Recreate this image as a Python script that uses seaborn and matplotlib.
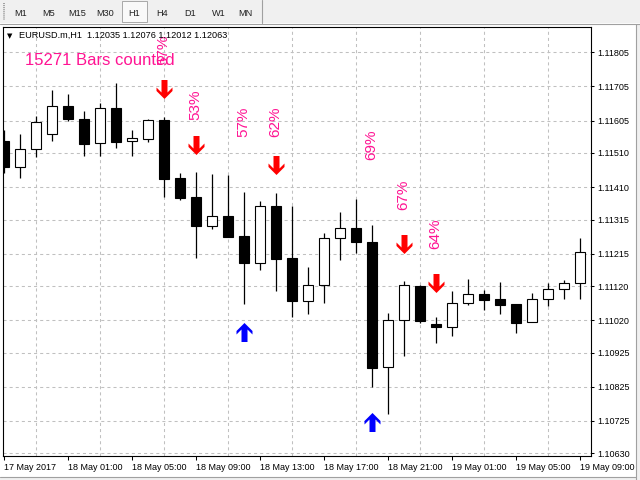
import numpy as np
import pandas as pd
import matplotlib
matplotlib.use("Agg")
import matplotlib.pyplot as plt
from matplotlib.path import Path
from matplotlib.patches import Rectangle
from matplotlib.lines import Line2D
import seaborn as sns

# EURUSD.m H1 candles, 17 May 2017 21:00 .. 19 May 2017 09:00
opens = [1.11545, 1.11468, 1.11521, 1.11565, 1.11647, 1.11609, 1.11538, 1.11642, 1.11544, 1.11552,
         1.11607, 1.11437, 1.11382, 1.11297, 1.11324, 1.11267, 1.11189, 1.11355, 1.11202, 1.11077,
         1.11122, 1.11261, 1.11290, 1.11249, 1.10884, 1.11020, 1.11120, 1.11009, 1.11001, 1.11070,
         1.11097, 1.11082, 1.11068, 1.11014, 1.11081, 1.11111, 1.11128]
highs = [1.11577, 1.11566, 1.11618, 1.11695, 1.11684, 1.11633, 1.11657, 1.11716, 1.11578, 1.11610,
         1.11615, 1.11452, 1.11455, 1.11448, 1.11445, 1.11396, 1.11369, 1.11393, 1.11355, 1.11176,
         1.11276, 1.11337, 1.11375, 1.11298, 1.11041, 1.11135, 1.11124, 1.11029, 1.11106, 1.11141,
         1.11109, 1.11132, 1.11068, 1.11100, 1.11129, 1.11138, 1.11262]
lows = [1.11452, 1.11436, 1.11499, 1.11546, 1.11605, 1.11502, 1.11502, 1.11525, 1.11502, 1.11543,
        1.11381, 1.11372, 1.11203, 1.11288, 1.11265, 1.11068, 1.11168, 1.11106, 1.11029, 1.11039,
        1.11071, 1.11197, 1.11217, 1.10824, 1.10745, 1.10916, 1.11013, 1.10954, 1.10975, 1.11065,
        1.11050, 1.11039, 1.10983, 1.11014, 1.11062, 1.11083, 1.11083]
closes = [1.11470, 1.11521, 1.11600, 1.11647, 1.11610, 1.11537, 1.11641, 1.11543, 1.11553, 1.11607,
          1.11435, 1.11379, 1.11297, 1.11325, 1.11265, 1.11189, 1.11355, 1.11200, 1.11077, 1.11123,
          1.11261, 1.11290, 1.11250, 1.10881, 1.11020, 1.11122, 1.11018, 1.11001, 1.11070, 1.11096,
          1.11080, 1.11065, 1.11013, 1.11081, 1.11111, 1.11129, 1.11219]

time_labels = ["17 May 2017", "18 May 01:00", "18 May 05:00", "18 May 09:00", "18 May 13:00",
               "18 May 17:00", "18 May 21:00", "19 May 01:00", "19 May 05:00", "19 May 09:00"]
price_labels = ["1.11805", "1.11705", "1.11605", "1.11510", "1.11410", "1.11315", "1.11215",
                "1.11120", "1.11020", "1.10925", "1.10825", "1.10725", "1.10630"]

# indicator signals
sell_bars = [10, 12, 17, 25, 27]
sell_arrow_prices = [1.11696, 1.11532, 1.11476, 1.11242, 1.11130]
buy_bars = [15, 23]
buy_arrow_prices = [1.10984, 1.10723]

pct_bars = [10, 12, 15, 17, 23, 25, 27]
pct_values = [57, 53, 57, 62, 69, 67, 64]
pct_prices = [1.11812, 1.11652, 1.11601, 1.11602, 1.11533, 1.11388, 1.11274]

bars_counted = 15271
symbol_header = "EURUSD.m,H1  1.12035 1.12076 1.12012 1.12063"
timeframes = ["M1", "M5", "M15", "M30", "H1", "H4", "D1", "W1", "MN"]
active_timeframe = "H1"

PINK = "#FF1493"

sns.set_theme(style="white")
plt.rcParams["font.family"] = ["Liberation Sans", "DejaVu Sans"]
plt.rcParams["lines.scale_dashes"] = False

W, H = 640, 480


def fx(px):
    return px / W


def fy(py):
    return 1 - py / H


fig = plt.figure(figsize=(6.4, 4.8), dpi=100, facecolor="white")
ax = fig.add_axes([fx(3), fy(456), (591 - 3) / W, (456 - 27) / H])
ax.set_facecolor("white")

df = pd.DataFrame({"open": opens, "high": highs, "low": lows, "close": closes})
df["bar"] = np.arange(len(df))
df["bull"] = df["close"] >= df["open"]

# wicks then bodies
ax.vlines(df["bar"], df["low"], df["high"], color="black", lw=0.9, zorder=2)
ax.bar(df["bar"], (df["close"] - df["open"]).abs().clip(lower=0.000015),
       bottom=np.minimum(df["open"], df["close"]), width=0.625,
       color=np.where(df["bull"], "white", "black"), edgecolor="black",
       linewidth=0.8, zorder=3)

# arrow glyphs
up_verts = [(0, 9.5), (8, 1.5), (8, -2), (3, 3), (3, -9.5), (-3, -9.5),
            (-3, 3), (-8, -2), (-8, 1.5), (0, 9.5)]
up_arrow = Path(up_verts, closed=True)
down_arrow = Path([(x, -y) for x, y in up_verts], closed=True)

sns.scatterplot(x=sell_bars, y=sell_arrow_prices, marker=down_arrow, s=187,
                color="#FF0000", linewidth=0, ax=ax, zorder=4, legend=False)
sns.scatterplot(x=buy_bars, y=buy_arrow_prices, marker=up_arrow, s=187,
                color="#0000FF", linewidth=0, ax=ax, zorder=4, legend=False)

for b, v, p in zip(pct_bars, pct_values, pct_prices):
    ax.text(b - 0.06, p, f"{v}%", rotation=90, ha="center", va="center",
            fontsize=11, color=PINK, zorder=5)

ax.set_xlim(-0.081, 36.669)
ax.set_ylim(1.106221, 1.118791)

# price scale on the right
ax.yaxis.tick_right()
ax.set_yticks([float(s) for s in price_labels])
ax.set_yticklabels(price_labels)
ax.tick_params(axis="y", which="major", direction="out", length=2.3, width=0.75,
               pad=2.3, labelsize=6.5, colors="black", right=True, left=False)

# time scale
ax.set_xticks(np.arange(0, len(df), 4))
ax.set_xticklabels(time_labels, ha="left")
ax.set_xticks(np.arange(2, len(df), 2), minor=True)
ax.tick_params(axis="x", which="major", direction="out", length=3.0, width=0.75,
               pad=2.0, labelsize=6.5, colors="black", bottom=True)
ax.tick_params(axis="x", which="minor", length=0)

ax.grid(False)
ax.grid(True, axis="x", which="minor", color="#C0C0C0", lw=0.75, ls=(0, (2.2, 2.2)))
ax.grid(True, axis="y", which="major", color="#C0C0C0", lw=0.75, ls=(0, (2.2, 2.2)))
ax.set_axisbelow(True)

for sp in ax.spines.values():
    sp.set_color("black")
    sp.set_linewidth(0.8)
    sp.set_visible(True)

# header and counter
fig.text(fx(7), fy(38), "\u25BC", fontsize=5, color="black", family="DejaVu Sans", va="baseline")
fig.text(fx(19), fy(38), symbol_header, fontsize=6.6, color="black", va="baseline")
fig.text(fx(25), fy(65), f"{bars_counted} Bars counted", fontsize=12, color=PINK, va="baseline")

# toolbar strip
fig.patches.append(Rectangle((0, fy(23)), 1, 23 / H, transform=fig.transFigure,
                             facecolor="#F0F0F0", edgecolor="none", zorder=0))
fig.lines.append(Line2D([0, 1], [fy(23.5), fy(23.5)], transform=fig.transFigure,
                        color="#A0A0A0", lw=0.8))
fig.lines.append(Line2D([fx(3.5), fx(3.5)], [fy(3), fy(20)], transform=fig.transFigure,
                        color="#909090", lw=1.2, ls=(0, (0.7, 0.7))))
fig.patches.append(Rectangle((fx(122), fy(22)), 25 / W, 21 / H, transform=fig.transFigure,
                             facecolor="#F9F9F9", edgecolor="#A8A8A8", lw=0.7))
fig.lines.append(Line2D([fx(262), fx(262)], [fy(0), fy(23)], transform=fig.transFigure,
                        color="#A0A0A0", lw=0.8))
tf_x = [20.5, 48.5, 77.5, 105.5, 134, 162, 190.5, 218.5, 245.5]
for label, px in zip(timeframes, tf_x):
    fig.text(fx(px), fy(16.5), label, fontsize=6.6, color="#202020", ha="center", va="baseline")

# window frame at right and bottom
fig.patches.append(Rectangle((fx(636), 0), 4 / W, fy(23.5), transform=fig.transFigure,
                             facecolor="#F0F0F0", edgecolor="none"))
fig.lines.append(Line2D([fx(636), fx(636)], [0, fy(23.5)], transform=fig.transFigure,
                        color="#A0A0A0", lw=0.8))
fig.patches.append(Rectangle((0, 0), 1, 3 / H, transform=fig.transFigure,
                             facecolor="#F0F0F0", edgecolor="none"))
fig.lines.append(Line2D([0, fx(636)], [fy(477), fy(477)], transform=fig.transFigure,
                        color="#A0A0A0", lw=0.8))

fig.savefig("out.png", dpi=100, facecolor="white")
